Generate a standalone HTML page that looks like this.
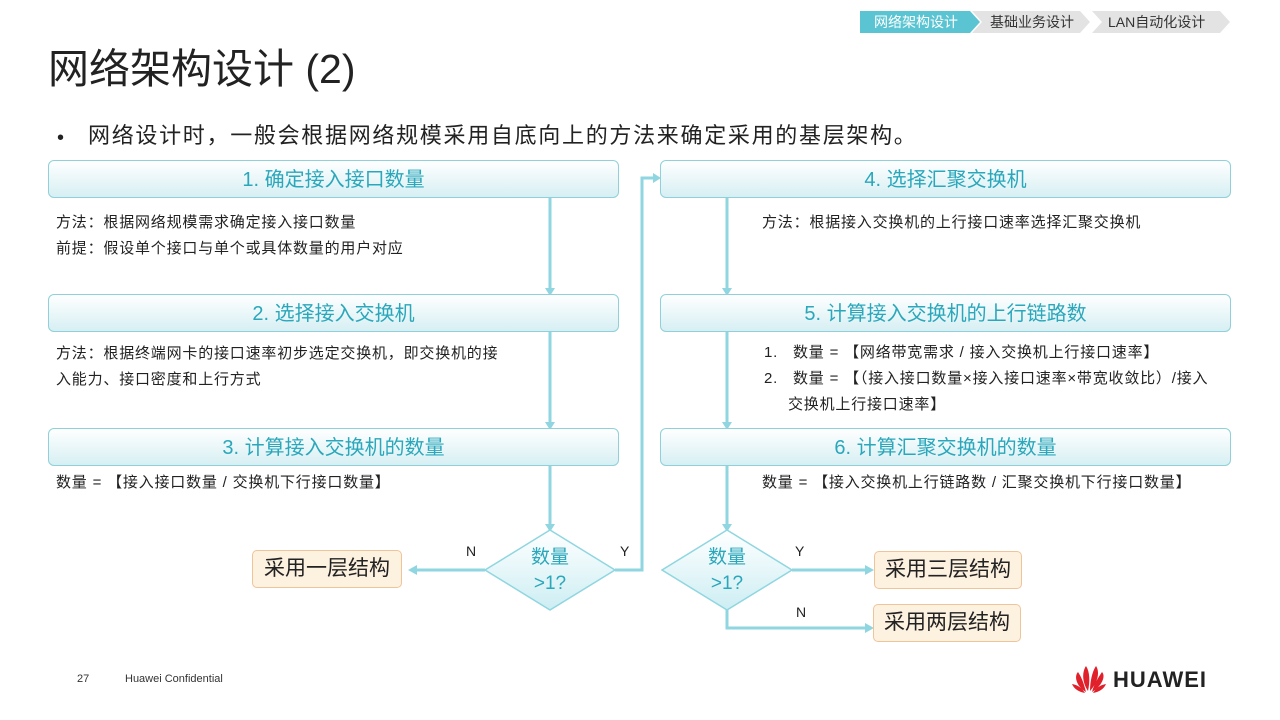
<!DOCTYPE html>
<html><head><meta charset="utf-8"><style>
*{margin:0;padding:0;box-sizing:border-box}
body{width:1280px;height:720px;background:#fff;position:relative;overflow:hidden;font-family:"Liberation Sans","Noto Sans CJK SC",sans-serif;color:#222}
.a{position:absolute;white-space:nowrap}
.hb{position:absolute;height:38px;border:1px solid #8fd0da;border-radius:6px;background:linear-gradient(#ffffff,#d6eff3);color:#2aa7bb;font-size:20px;text-align:center;line-height:38px}
.t{position:absolute;font-size:15px;letter-spacing:0.8px;line-height:26px;color:#222;white-space:nowrap}
.ob{position:absolute;height:38px;border:1px solid #f0c49a;border-radius:5px;background:#fdf1e0;font-size:21px;line-height:36px;text-align:center;color:#222}
</style></head><body>
<svg class="a" style="left:0;top:0" width="1280" height="720">
<polygon points="860,11 970,11 980,22 970,33 860,33" fill="#5bc4d2"/>
<polygon points="972,11 1080,11 1090,22 1080,33 972,33 982,22" fill="#e3e3e3"/>
<polygon points="1092,11 1220,11 1230,22 1220,33 1092,33 1102,22" fill="#e3e3e3"/>
<g stroke="#8fd6e0" stroke-width="3" fill="none">
<line x1="550" y1="198" x2="550" y2="288"/>
<line x1="550" y1="332" x2="550" y2="422"/>
<line x1="550" y1="466" x2="550" y2="524"/>
<line x1="727" y1="198" x2="727" y2="288"/>
<line x1="727" y1="332" x2="727" y2="422"/>
<line x1="727" y1="466" x2="727" y2="524"/>
<polyline points="615,570 642,570 642,178 654,178"/>
<line x1="485" y1="570" x2="416" y2="570"/>
<line x1="792" y1="570" x2="866" y2="570"/>
<polyline points="727,610 727,628 866,628"/>
</g>
<g fill="#8fd6e0">
<polygon points="545,288 555,288 550,296"/>
<polygon points="545,422 555,422 550,430"/>
<polygon points="545,524 555,524 550,532"/>
<polygon points="722,288 732,288 727,296"/>
<polygon points="722,422 732,422 727,430"/>
<polygon points="722,524 732,524 727,532"/>
<polygon points="653,173 653,183 661,178"/>
<polygon points="417,565 417,575 408,570"/>
<polygon points="865,565 865,575 874,570"/>
<polygon points="865,623 865,633 874,628"/>
</g>
<defs><linearGradient id="g" x1="0" y1="0" x2="0" y2="1"><stop offset="0" stop-color="#fff"/><stop offset="1" stop-color="#cdeef3"/></linearGradient></defs>
<polygon points="550,530 615,570 550,610 485,570" fill="url(#g)" stroke="#8fd6e0" stroke-width="1.5"/>
<polygon points="727,530 792,570 727,610 662,570" fill="url(#g)" stroke="#8fd6e0" stroke-width="1.5"/>
<g transform="translate(1072,664)">
<path d="M14,28 C4,22 2,12 6,8 C10,14 12,20 14,28Z M16,27 C10,18 10,8 14,2 C18,8 18,18 16,27Z M18,27 C18,18 20,8 24,2 C28,8 26,18 18,27Z M20,28 C22,20 26,14 30,8 C34,12 30,22 20,28Z M13,29 C7,28 2,25 0,20 C6,21 10,24 13,29Z M21,29 C27,28 32,25 34,20 C28,21 24,24 21,29Z" fill="#e0202a"/>
</g>
</svg>
<div class="a" style="left:860px;top:11px;width:112px;height:22px;line-height:22px;text-align:center;color:#fff;font-size:14px">网络架构设计</div>
<div class="a" style="left:990px;top:11px;line-height:22px;font-size:14px;color:#333">基础业务设计</div>
<div class="a" style="left:1108px;top:11px;line-height:22px;font-size:14px;color:#333">LAN自动化设计</div>
<div class="a" style="left:48px;top:42px;font-size:41px;line-height:54px;color:#222">网络架构设计 (2)</div>
<div class="a" style="left:57px;top:124px;font-size:20px;line-height:28px">•</div>
<div class="a" style="left:88px;top:121px;font-size:22px;letter-spacing:1.7px;line-height:30px">网络设计时，一般会根据网络规模采用自底向上的方法来确定采用的基层架构。</div>
<div class="hb" style="left:48px;top:160px;width:571px">1. 确定接入接口数量</div>
<div class="hb" style="left:48px;top:294px;width:571px">2. 选择接入交换机</div>
<div class="hb" style="left:48px;top:428px;width:571px">3. 计算接入交换机的数量</div>
<div class="hb" style="left:660px;top:160px;width:571px">4. 选择汇聚交换机</div>
<div class="hb" style="left:660px;top:294px;width:571px">5. 计算接入交换机的上行链路数</div>
<div class="hb" style="left:660px;top:428px;width:571px">6. 计算汇聚交换机的数量</div>
<div class="t" style="left:56px;top:210px">方法：根据网络规模需求确定接入接口数量<br>前提：假设单个接口与单个或具体数量的用户对应</div>
<div class="t" style="left:56px;top:341px">方法：根据终端网卡的接口速率初步选定交换机，即交换机的接<br>入能力、接口密度和上行方式</div>
<div class="t" style="left:56px;top:470px">数量 = 【接入接口数量 / 交换机下行接口数量】</div>
<div class="t" style="left:762px;top:210px">方法：根据接入交换机的上行接口速率选择汇聚交换机</div>
<div class="t" style="left:764px;top:340px">1.&nbsp;&nbsp;&nbsp;数量 = 【网络带宽需求 / 接入交换机上行接口速率】</div>
<div class="t" style="left:764px;top:366px">2.&nbsp;&nbsp;&nbsp;数量 = 【（接入接口数量×接入接口速率×带宽收敛比）/接入</div>
<div class="t" style="left:788px;top:392px">交换机上行接口速率】</div>
<div class="t" style="left:762px;top:470px">数量 = 【接入交换机上行链路数 / 汇聚交换机下行接口数量】</div>
<div class="a" style="left:520px;top:545px;width:60px;text-align:center;color:#2aa7bb;font-size:19px;line-height:26px">数量<br>&gt;1?</div>
<div class="a" style="left:697px;top:545px;width:60px;text-align:center;color:#2aa7bb;font-size:19px;line-height:26px">数量<br>&gt;1?</div>
<div class="a" style="left:466px;top:543px;font-size:14px">N</div>
<div class="a" style="left:620px;top:543px;font-size:14px">Y</div>
<div class="a" style="left:795px;top:543px;font-size:14px">Y</div>
<div class="a" style="left:796px;top:604px;font-size:14px">N</div>
<div class="ob" style="left:252px;top:550px;width:150px">采用一层结构</div>
<div class="ob" style="left:874px;top:551px;width:148px">采用三层结构</div>
<div class="ob" style="left:873px;top:604px;width:148px">采用两层结构</div>
<div class="a" style="left:77px;top:673px;font-size:11px;color:#333">27</div>
<div class="a" style="left:125px;top:673px;font-size:11px;color:#333">Huawei Confidential</div>
<div class="a" style="left:1113px;top:666px;font-size:22px;font-weight:bold;color:#222;letter-spacing:1px;line-height:28px">HUAWEI</div>
</body></html>
